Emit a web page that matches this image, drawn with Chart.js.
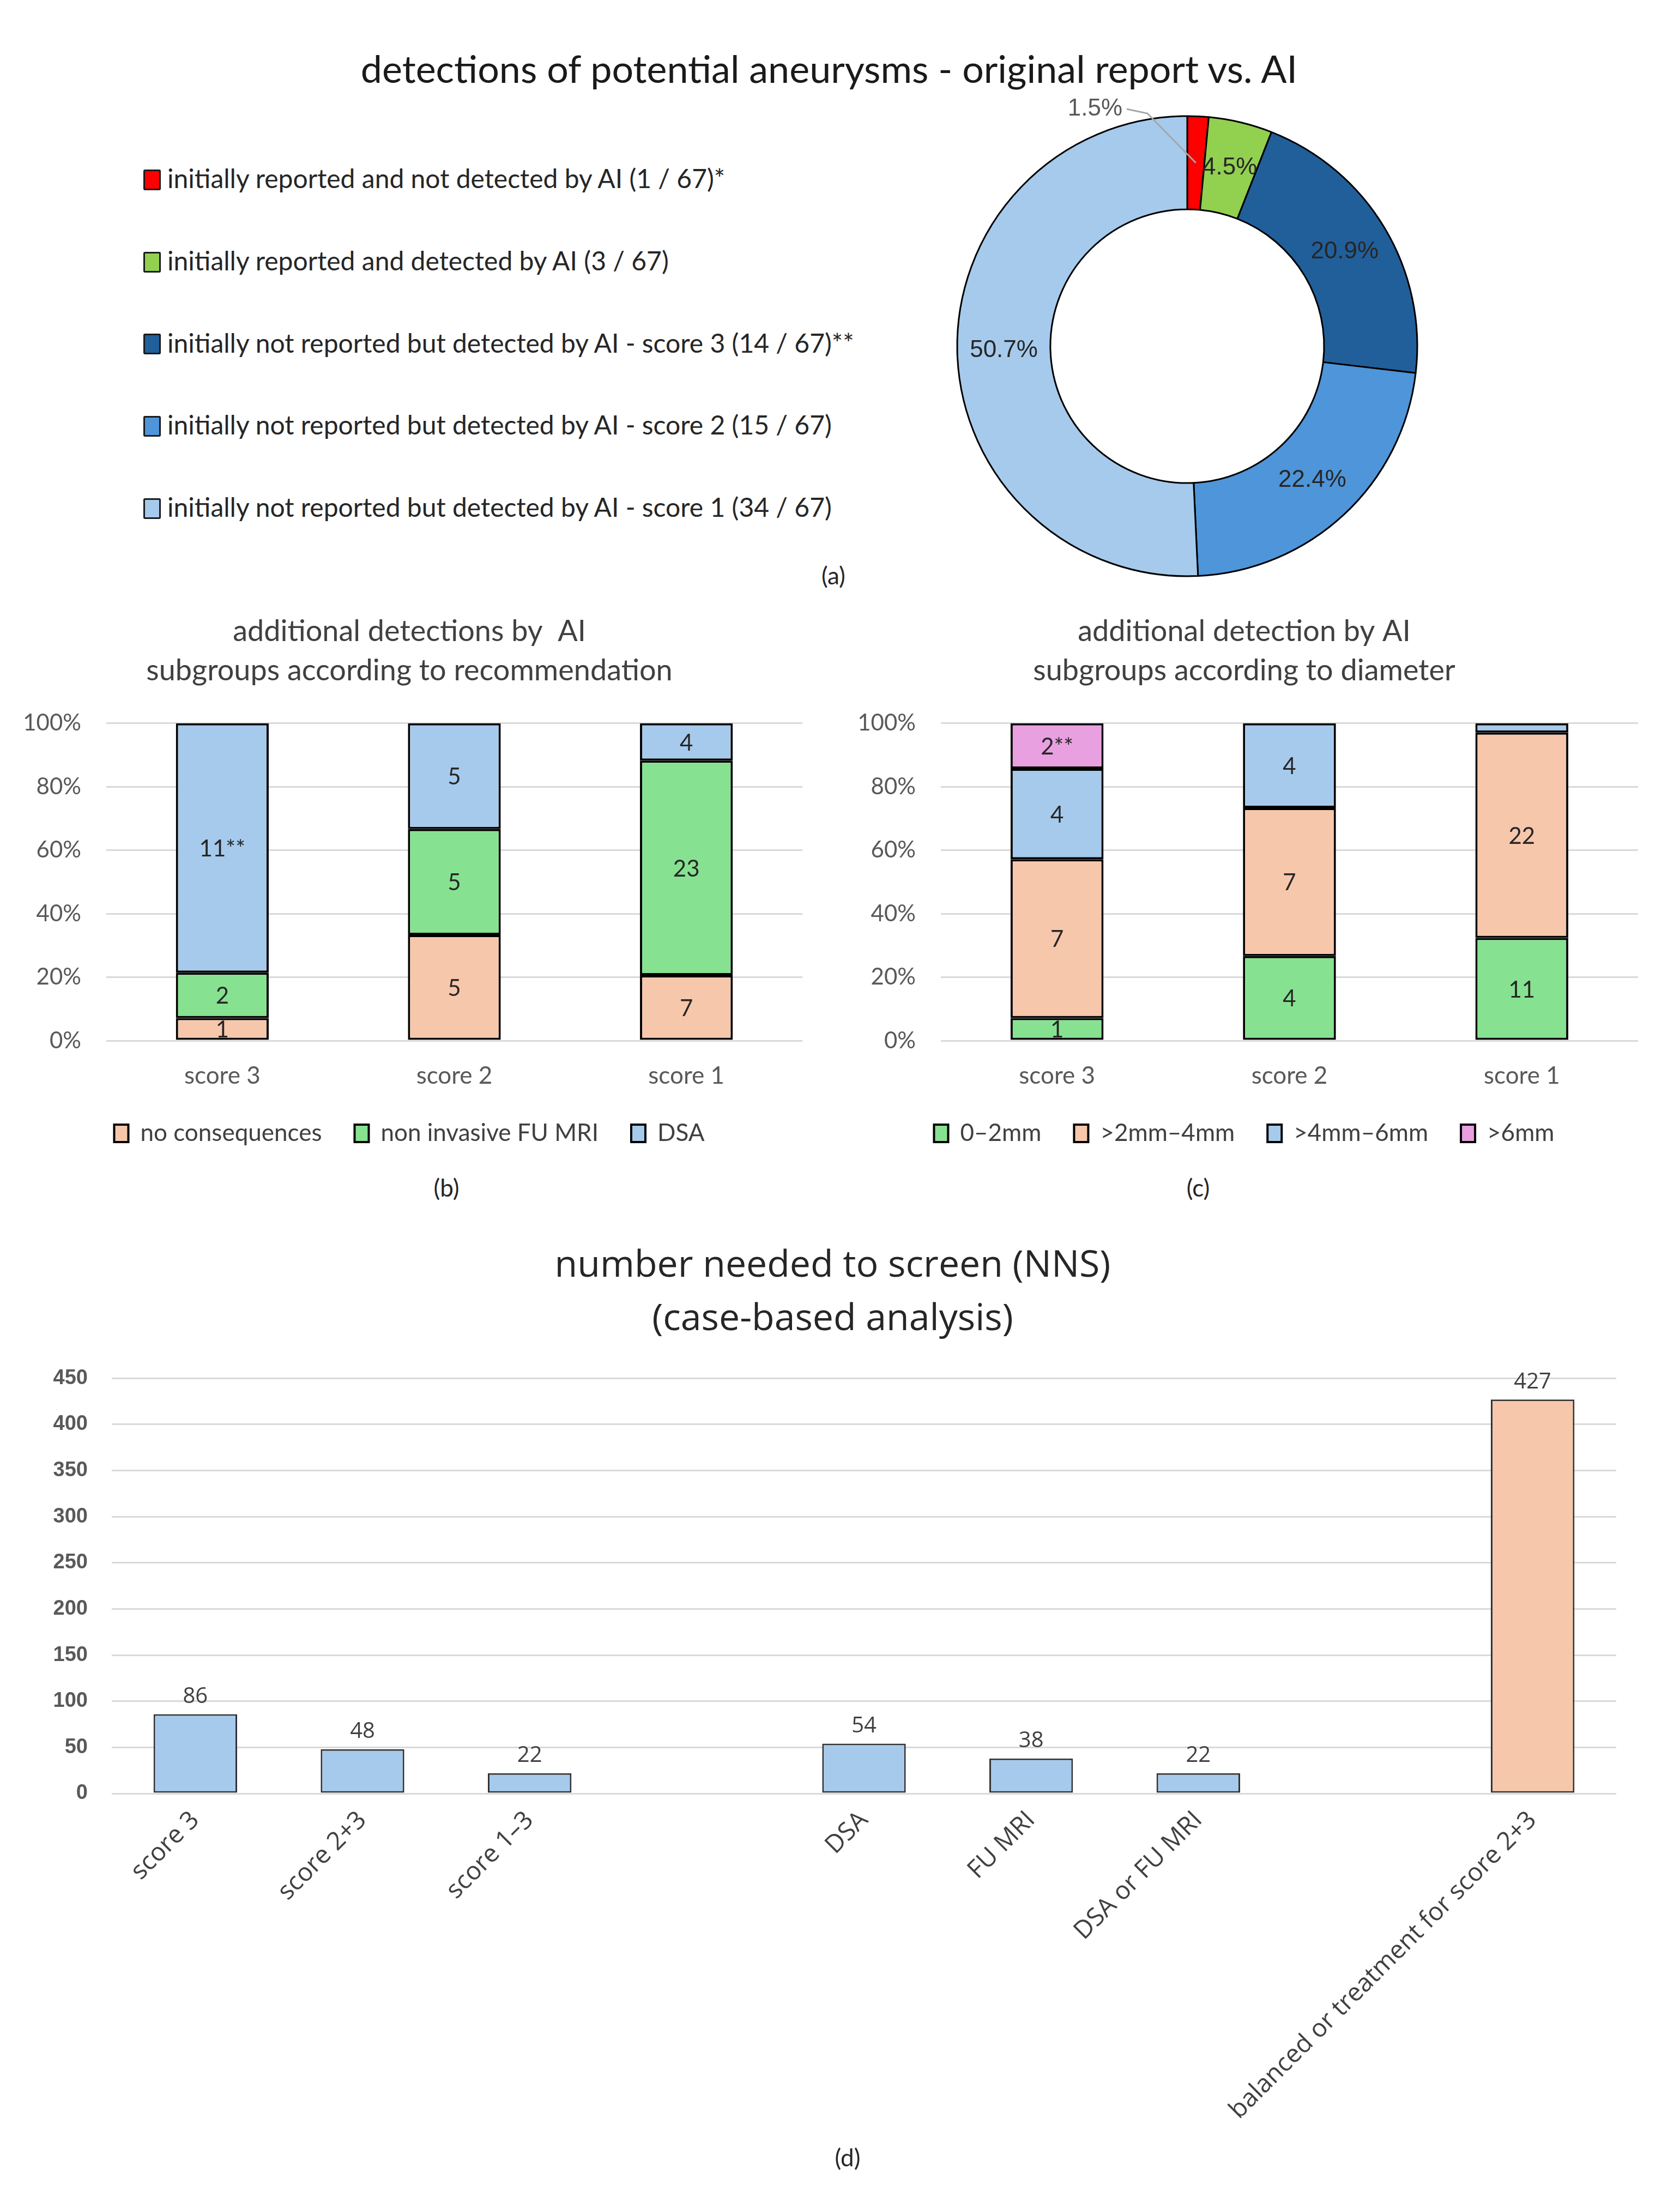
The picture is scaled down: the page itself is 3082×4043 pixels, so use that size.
<!DOCTYPE html>
<html>
<head>
<meta charset="utf-8">
<script src="https://cdn.jsdelivr.net/npm/chart.js@4.4.1/dist/chart.umd.min.js"></script>
<style>
  body { margin: 0; width: 3082px; height: 4043px; background: #fff; position: relative; overflow: hidden; font-family: Lato, sans-serif; }
  .box { position: absolute; }
  .title-a { position: absolute; left: 0; width: 3042px; top: 80px; line-height: 90px; font-size: 70px; text-align: center; color: #1a1a1a; }
  .legend-a { position: absolute; left: 263px; top: 252px; font-size: 48px; color: #262626; }
  .legend-a div { height: 150.75px; line-height: 150.75px; white-space: nowrap; }
  .legend-a span.mark { display: inline-block; width: 26px; height: 32px; border: 3px solid #1a1a1a; border-radius: 3px; margin-right: 12px; vertical-align: middle; position: relative; top: -3px; }
  .letter { position: absolute; width: 200px; text-align: center; line-height: 60px; font-size: 44px; color: #262626; }
</style>
</head>
<body>
<div class="title-a" id="titleA">detections of potential aneurysms - original report vs. AI</div>
<div class="legend-a" id="legendA"></div>
<div class="box" style="left:1678px; top:135px; width:1000px; height:1000px;"><canvas id="donut"></canvas></div>
<div class="letter" style="left:1429px; top:1025px;">(a)</div>

<div class="box" style="left:0px; top:1094px; width:1540px; height:1048px;"><canvas id="recChart"></canvas></div>
<div class="letter" style="left:719px; top:2148px;">(b)</div>

<div class="box" style="left:1540px; top:1094px; width:1542px; height:1048px;"><canvas id="diaChart"></canvas></div>
<div class="letter" style="left:2098px; top:2148px;">(c)</div>

<div class="box" style="left:0px; top:2260px; width:3082px; height:1710px;"><canvas id="nnsChart"></canvas></div>
<div class="letter" style="left:1455px; top:3927px;">(d)</div>

<script>
// (a) detections of potential aneurysms
const donutLabels = [
    'initially reported and not detected by AI (1 / 67)*',
    'initially reported and detected by AI (3 / 67)',
    'initially not reported but detected by AI - score 3 (14 / 67)**',
    'initially not reported but detected by AI - score 2 (15 / 67)',
    'initially not reported but detected by AI - score 1 (34 / 67)'
];
const donutCounts = [1, 3, 14, 15, 34];
const donutColors = ['#FF0000', '#92D050', '#215F9A', '#4E95D9', '#A6CAEC'];

// (b) + (c) categories
const scoreCats = ['score 3', 'score 2', 'score 1'];
const pctTicks = [0, 20, 40, 60, 80, 100];

// (b) recommendation subgroups (counts)
const recSeries = ['no consequences', 'non invasive FU MRI', 'DSA'];
const recNoCons = [1, 5, 7];
const recFuMri = [2, 5, 23];
const recDsa = [11, 5, 4];
const recDsaMark = ['**', '', ''];

// (c) diameter subgroups (counts)
const diaSeries = ['0\u20132mm', '>2mm\u20134mm', '>4mm\u20136mm', '>6mm'];
const dia0to2 = [1, 4, 11];
const dia2to4 = [7, 7, 22];
const dia4to6 = [4, 4, 1];
const diaOver6 = [2, 0, 0];
const diaOver6Mark = ['**', '', ''];

// (d) number needed to screen
const nnsCats = ['score 3', 'score 2+3', 'score 1\u20133', '', 'DSA', 'FU MRI', 'DSA or FU MRI', '', 'balanced or treatment for score 2+3'];
const nnsValues = [86, 48, 22, null, 54, 38, 22, null, 427];
const nnsTicks = [0, 50, 100, 150, 200, 250, 300, 350, 400, 450];

const peach = '#F7C7AC', green = '#86E290', lightBlue = '#A6CAEC', pink = '#E8A0E0';
const gridGrey = '#D9D9D9';

// text inside / above bars
const barText = {
    id: 'barText',
    afterDatasetsDraw(chart, args, opts) {
        const ctx = chart.ctx;
        ctx.save();
        ctx.font = opts.font;
        ctx.fillStyle = opts.color;
        ctx.textAlign = 'center';
        chart.data.datasets.forEach((ds, di) => {
            const meta = chart.getDatasetMeta(di);
            meta.data.forEach((bar, i) => {
                const text = opts.text(di, i);
                if (text === null || text === '') return;
                if (opts.where === 'top') {
                    ctx.textBaseline = 'bottom';
                    ctx.fillText(text, bar.x, bar.y - 12);
                } else {
                    if (Math.abs(bar.base - bar.y) < 30) return;
                    ctx.textBaseline = 'middle';
                    ctx.fillText(text, bar.x, (bar.y + bar.base) / 2 + 2);
                }
            });
        });
        ctx.restore();
    }
};

// percentage labels on the ring, first slice gets a leader line
const ringText = {
    id: 'ringText',
    afterDatasetsDraw(chart) {
        const ctx = chart.ctx;
        const meta = chart.getDatasetMeta(0);
        const total = donutCounts.reduce((a, b) => a + b, 0);
        ctx.save();
        ctx.font = '44px "Liberation Sans", Arial';
        ctx.textBaseline = 'middle';
        meta.data.forEach((arc, i) => {
            const mid = (arc.startAngle + arc.endAngle) / 2;
            const r = (arc.innerRadius + arc.outerRadius) / 2;
            const px = arc.x + Math.cos(mid) * r;
            const py = arc.y + Math.sin(mid) * r;
            const text = (donutCounts[i] / total * 100).toFixed(1) + '%';
            if (i === 0) {
                const ex = arc.x - 73, ey = arc.y - arc.outerRadius - 5;
                ctx.strokeStyle = '#A6A6A6';
                ctx.lineWidth = 3;
                ctx.beginPath();
                ctx.moveTo(px, py);
                ctx.lineTo(ex, ey);
                ctx.lineTo(ex - 38, ey - 8);
                ctx.stroke();
                ctx.fillStyle = '#595959';
                ctx.textAlign = 'right';
                ctx.fillText(text, ex - 46, ey - 8);
            } else {
                ctx.fillStyle = '#262626';
                ctx.textAlign = 'center';
                ctx.fillText(text, px, py);
            }
        });
        ctx.restore();
    }
};

// HTML legend for (a)
document.getElementById('legendA').innerHTML = donutLabels.map((l, i) =>
    '<div><span class="mark" style="background:' + donutColors[i] + '"></span>' + l + '</div>').join('');

Chart.defaults.animation = false;
Chart.defaults.font.family = 'Lato';
Chart.defaults.color = '#595959';

new Chart(document.getElementById('donut'), {
    type: 'doughnut',
    data: {
        labels: donutLabels,
        datasets: [{ data: donutCounts, backgroundColor: donutColors, borderColor: '#000', borderWidth: 3 }]
    },
    options: {
        responsive: true,
        maintainAspectRatio: false,
        radius: 422,
        cutout: '59.5%',
        plugins: { legend: { display: false }, tooltip: { enabled: false } }
    },
    plugins: [ringText]
});

function toPct(series, i) {
    const total = series.reduce((s, arr) => s + arr[i], 0);
    return series.map(arr => arr[i] / total * 100);
}

function stackedChart(id, title, titleSize, names, series, colors, marks, pad, yWidth) {
    const datasets = series.map((arr, k) => ({
        label: names[k],
        data: arr.map((v, i) => toPct(series, i)[k]),
        backgroundColor: colors[k],
        borderColor: '#000',
        borderWidth: 4,
        borderSkipped: false,
        barPercentage: 0.4,
        categoryPercentage: 1
    }));
    return new Chart(document.getElementById(id), {
        type: 'bar',
        data: { labels: scoreCats, datasets: datasets },
        options: {
            responsive: true,
            maintainAspectRatio: false,
            layout: { padding: { top: 0, left: pad[0], right: pad[1], bottom: 31 } },
            plugins: {
                title: {
                    display: true, text: title, color: '#404040',
                    font: { size: titleSize, weight: 'normal', lineHeight: 1.34 },
                    padding: { top: 28, bottom: 60 }
                },
                legend: {
                    display: true, position: 'bottom',
                    labels: { boxWidth: 26, boxHeight: 32, padding: 60, color: '#404040', font: { size: 44 } }
                },
                tooltip: { enabled: false },
                barText: {
                    font: '42px Lato', color: '#262626', where: 'center',
                    text: (di, i) => series[di][i] > 0 ? series[di][i] + (marks[di] ? marks[di][i] : '') : ''
                }
            },
            scales: {
                x: {
                    stacked: true,
                    grid: { display: false },
                    border: { display: false },
                    ticks: { padding: 30, color: '#595959', font: { size: 44 } },
                    afterFit: s => { s.height = 88; }
                },
                y: {
                    stacked: true, min: 0, max: 100,
                    afterBuildTicks: s => { s.ticks = pctTicks.map(v => ({ value: v })); },
                    grid: { color: gridGrey, lineWidth: 3, drawTicks: false },
                    border: { display: false },
                    ticks: { padding: 46, color: '#595959', font: { size: 42 }, callback: v => v + '%' },
                    afterFit: s => { s.width = yWidth; }
                }
            }
        },
        plugins: [barText]
    });
}

stackedChart('recChart', ['additional detections by  AI', 'subgroups according to recommendation'], 54,
    recSeries, [recNoCons, recFuMri, recDsa], [peach, green, lightBlue], [null, null, recDsaMark], [30, 68], 165);

stackedChart('diaChart', ['additional detection by AI', 'subgroups according to diameter'], 54,
    diaSeries, [dia0to2, dia2to4, dia4to6, diaOver6], [green, peach, lightBlue, pink], [null, null, null, diaOver6Mark], [20, 77], 166);

new Chart(document.getElementById('nnsChart'), {
    type: 'bar',
    data: {
        labels: nnsCats,
        datasets: [{
            label: 'NNS',
            data: nnsValues,
            backgroundColor: nnsValues.map((v, i) => i === nnsValues.length - 1 ? peach : lightBlue),
            borderColor: '#333333',
            borderWidth: 3,
            borderSkipped: false,
            barPercentage: 0.5,
            categoryPercentage: 1
        }]
    },
    options: {
        responsive: true,
        maintainAspectRatio: false,
        layout: { padding: { top: 0, left: 90, right: 117, bottom: 0 } },
        plugins: {
            title: {
                display: true, text: ['number needed to screen (NNS)', '(case-based analysis)'], color: '#262626',
                font: { family: '"Open Sans"', size: 68, weight: 'normal', lineHeight: 1.45 },
                padding: { top: 13, bottom: 58 }
            },
            legend: { display: false },
            tooltip: { enabled: false },
            barText: {
                font: '40px "Open Sans"', color: '#404040', where: 'top',
                text: (di, i) => nnsValues[i] === null ? '' : String(nnsValues[i])
            }
        },
        scales: {
            x: {
                grid: { display: false },
                border: { display: false },
                ticks: {
                    autoSkip: false, minRotation: 45, maxRotation: 45, padding: 14,
                    color: '#404040', font: { family: '"Open Sans"', size: 46 }
                },
                afterFit: s => { s.height = 680; }
            },
            y: {
                min: 0, max: 450,
                afterBuildTicks: s => { s.ticks = nnsTicks.map(v => ({ value: v })); },
                grid: { color: gridGrey, lineWidth: 3, drawTicks: false },
                border: { display: false },
                ticks: { padding: 44, color: '#595959', font: { family: '"Liberation Sans"', size: 38, weight: 'bold' } },
                afterFit: s => { s.width = 115; }
            }
        }
    },
    plugins: [barText]
});
</script>
</body>
</html>
